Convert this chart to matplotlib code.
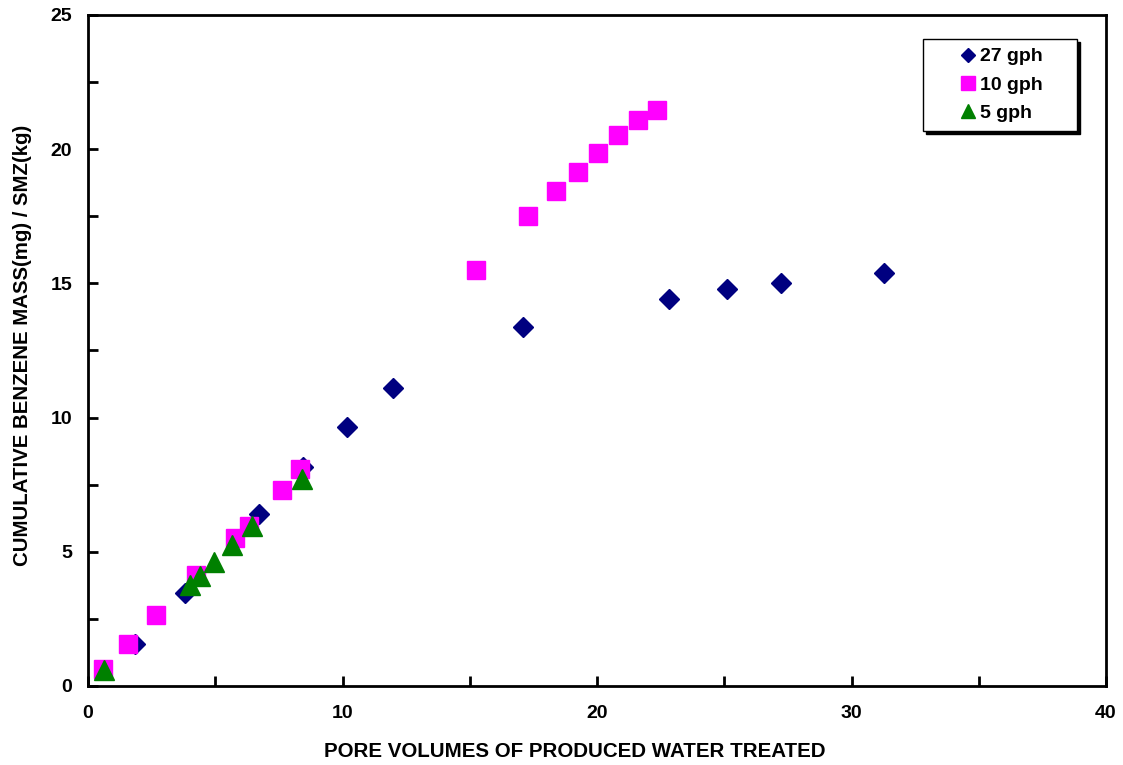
import matplotlib
matplotlib.use("Agg")
import matplotlib.pyplot as plt
from matplotlib.ticker import MultipleLocator

plt.rcParams['font.family'] = ['Liberation Sans', 'DejaVu Sans']
plt.rcParams['font.weight'] = 'bold'

# Cumulative benzene mass removed vs. pore volumes treated, per flow rate
pv_27 = [1.85, 3.81, 6.72, 8.45, 10.18, 11.98, 17.09, 22.83, 25.11, 27.23, 31.28]
mass_27 = [1.56, 3.46, 6.41, 8.16, 9.65, 11.10, 13.38, 14.42, 14.79, 15.01, 15.39]

pv_10 = [0.59, 1.57, 2.67, 4.24, 5.78, 6.33, 7.62, 8.33, 15.25, 17.29, 18.39,
         19.25, 20.04, 20.82, 21.61, 22.36]
mass_10 = [0.63, 1.56, 2.65, 4.14, 5.51, 5.96, 7.30, 8.08, 15.50, 17.51, 18.44,
           19.15, 19.86, 20.53, 21.09, 21.46]

pv_5 = [0.63, 4.00, 4.40, 4.95, 5.66, 6.44, 8.41]
mass_5 = [0.60, 3.76, 4.10, 4.62, 5.25, 5.96, 7.71]

labels = ['27 gph', '10 gph', '5 gph']

fig = plt.figure(figsize=(11.23, 7.65), dpi=100)
ax = fig.add_axes([0.0784, 0.1033, 0.9065, 0.8771])

ax.plot(pv_27, mass_27, linestyle='none', marker='D', markersize=10,
        color='#000080', label=labels[0], zorder=3)
ax.plot(pv_10, mass_10, linestyle='none', marker='s', markersize=13,
        color='#FF00FF', label=labels[1], zorder=4)
ax.plot(pv_5, mass_5, linestyle='none', marker='^', markersize=14,
        color='#008000', label=labels[2], zorder=5)

ax.set_xlim(0, 40)
ax.set_ylim(0, 25)
ax.xaxis.set_major_locator(MultipleLocator(10))
ax.xaxis.set_minor_locator(MultipleLocator(5))
ax.yaxis.set_major_locator(MultipleLocator(5))
ax.yaxis.set_minor_locator(MultipleLocator(2.5))

for s in ax.spines.values():
    s.set_linewidth(2)

ax.tick_params(axis='both', which='both', direction='in', width=2,
               top=False, right=False)
ax.tick_params(axis='both', which='major', length=7, labelsize=14)
ax.tick_params(axis='both', which='minor', length=7)
ax.tick_params(axis='x', which='major', pad=13.7)
ax.tick_params(axis='y', which='major', pad=11.5)
for lbl in ax.get_xticklabels() + ax.get_yticklabels():
    lbl.set_fontweight('bold')

ax.set_xlabel('PORE VOLUMES OF PRODUCED WATER TREATED', fontsize=14.8,
              fontweight='bold', va='top')
ax.xaxis.set_label_coords(0.478, -0.083)
ax.set_ylabel('CUMULATIVE BENZENE MASS(mg) / SMZ(kg)', fontsize=14.7,
              fontweight='bold')
ax.yaxis.set_label_coords(-0.055, 0.508)

leg = ax.legend(loc='upper left', bbox_to_anchor=(0.8202, 0.8301, 0.1513, 0.1341),
                mode='expand', prop={'size': 14, 'weight': 'bold'},
                frameon=True, fancybox=False,
                shadow={'color': 'black', 'alpha': 1},
                handlelength=3.7, handletextpad=-1.2, borderpad=0.45,
                labelspacing=0.55, markerscale=0.75, borderaxespad=0)
leg.get_frame().set_edgecolor('black')
leg.get_frame().set_linewidth(1)

fig.savefig('out.png', dpi=100)
